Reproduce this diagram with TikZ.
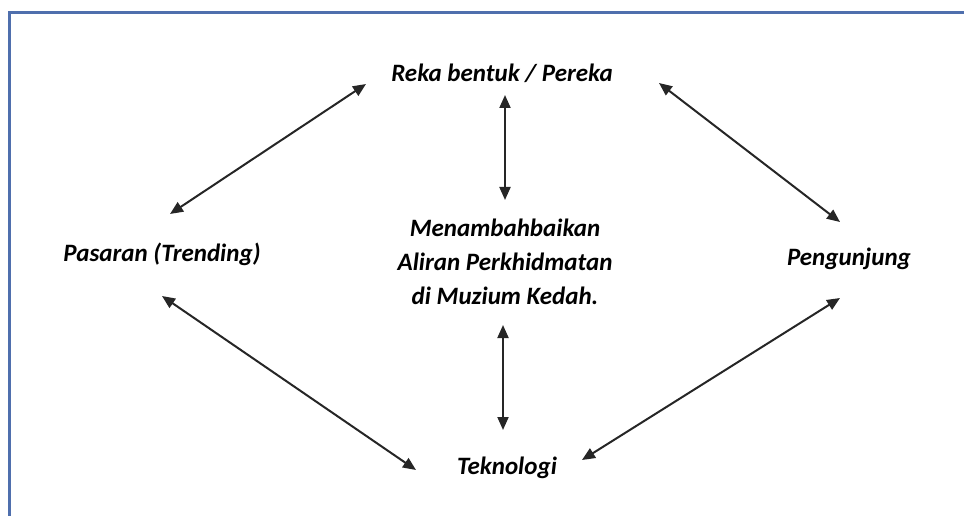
\documentclass[tikz,border=0pt]{standalone}
\usepackage{fontspec}
\setmainfont{Carlito}
\usetikzlibrary{arrows.meta,calc}
\definecolor{framecol}{HTML}{4F6FAD}
\tikzset{
  label/.style={font=\fontsize{12.5}{17}\selectfont\bfseries\itshape, inner sep=1pt, align=center},
  biarrow/.style={{Triangle[length=6.5pt,width=5.5pt]}-{Triangle[length=6.5pt,width=5.5pt]}, line width=1pt, draw=black!85}
}
\begin{document}
\begin{tikzpicture}[x=0.5pt,y=0.5pt]
            \useasboundingbox (0,0) rectangle (964,515);
            \clip (0,0) rectangle (964,515);
            % Bingkai
            \draw[framecol, line width=1.5pt] (9,-10) -- (9,502) -- (980,502);
            
            % Teks
            \node[label] (reka) at (502,442) {Reka bentuk / Pereka};
            \node[label] (pas) at (162,261) {Pasaran (Trending)};
            \node[label] (peng) at (849,256) {Pengunjung};
            \node[label] (pusat) at (505,253) {Menambahbaikan\\Aliran Perkhidmatan\\di Muzium Kedah.};
            \node[label] (tek) at (507,47) {Teknologi};
            
            % Anak panah
            \draw[biarrow] ($(pas)+(8,40)$) -- ($(reka)+(-136,-11)$);
            \draw[biarrow] ($(reka)+(3,-22)$) -- ($(pusat)+(0,62)$);
            \draw[biarrow] ($(reka)+(157,-10)$) -- ($(peng)+(-9,37)$);
            \draw[biarrow] ($(pas)+(0,-42)$) -- ($(tek)+(-91,-2)$);
            \draw[biarrow] ($(pusat)+(-2,-63)$) -- ($(tek)+(-4,38)$);
            \draw[biarrow] ($(peng)+(-9,-39)$) -- ($(tek)+(75,8)$);
        \end{tikzpicture}
\end{document}
